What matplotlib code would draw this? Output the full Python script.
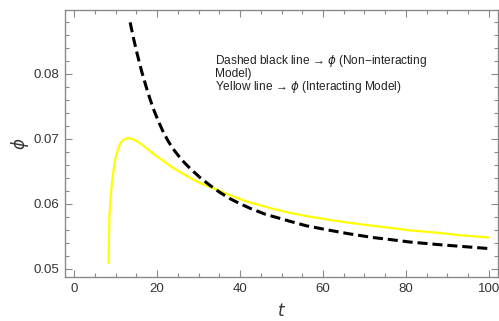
import matplotlib
matplotlib.use("Agg")
import matplotlib.pyplot as plt
from matplotlib.ticker import MultipleLocator

# Non-interacting model (dashed black)
t_non = [13.5, 14.3, 15.1, 16.3, 17.5, 18.3, 19.1, 20.3, 21.5, 22.7, 23.9, 26.0, 28.0, 30.4, 32.8, 35.0, 37.5, 40.0, 42.4, 46.0, 52.0, 56.0, 61.7, 66.0, 72.0, 76.0, 81.0, 88.0, 94.0, 100.0]
phi_non = [0.0879, 0.0855, 0.0833, 0.0803, 0.0777, 0.0761, 0.0746, 0.0727, 0.0710, 0.0696, 0.0684, 0.0667, 0.0654, 0.0640, 0.0628, 0.0618, 0.0608, 0.0600, 0.0593, 0.0584, 0.0573, 0.0566, 0.0559, 0.0554, 0.0548, 0.0545, 0.0541, 0.0537, 0.0534, 0.0531]

# Interacting model (yellow)
t_int = [8.3, 8.4, 8.5, 8.8, 9.1, 9.5, 9.9, 10.5, 11.1, 12.0, 13.1, 14.3, 15.9, 17.9, 19.9, 21.9, 23.9, 26.3, 28.7, 31.0, 33.6, 36.8, 40.0, 42.4, 48.0, 52.0, 56.0, 61.7, 66.0, 72.0, 76.0, 81.0, 88.0, 94.0, 100.0]
phi_int = [0.0507, 0.0550, 0.0580, 0.0610, 0.0632, 0.0652, 0.0668, 0.0682, 0.0693, 0.0699, 0.0701, 0.0699, 0.0693, 0.0683, 0.0673, 0.0664, 0.0655, 0.0646, 0.0637, 0.0630, 0.0624, 0.0615, 0.0607, 0.0602, 0.0592, 0.0586, 0.0581, 0.0575, 0.0571, 0.0566, 0.0563, 0.0559, 0.0555, 0.0551, 0.0548]

x_ticks = [0, 20, 40, 60, 80, 100]
y_ticks = [0.05, 0.06, 0.07, 0.08]

note_lines = ["Dashed black line \u2192 $\\phi$ (Non\u2212interacting",
              "Model)",
              "Yellow line \u2192 $\\phi$ (Interacting Model)"]

plt.rcParams['font.family'] = ['Liberation Sans', 'DejaVu Sans']

fig = plt.figure(figsize=(4.99, 3.21), dpi=100)
ax = fig.add_axes([0.1303, 0.137, 0.8677, 0.8318])

ax.plot(t_int, phi_int, color='#FFFF00', lw=1.6, solid_capstyle='butt')
ax.plot(t_non, phi_non, color='black', lw=2.2, dashes=(3.3, 1.6))

ax.set_xlim(-2.2, 102.2)
ax.set_ylim(0.04872, 0.0898)
ax.set_xticks(x_ticks)
ax.set_yticks(y_ticks)
ax.set_xticklabels([str(v) for v in x_ticks])
ax.set_yticklabels([f"{v:.2f}" for v in y_ticks])
ax.xaxis.set_minor_locator(MultipleLocator(5))
ax.yaxis.set_minor_locator(MultipleLocator(0.002))

frame_col = '#8a8a8a'
for s in ax.spines.values():
    s.set_color(frame_col)
    s.set_linewidth(1.0)
ax.tick_params(which='both', direction='in', top=True, right=True, color=frame_col,
               labelsize=9.5, labelcolor='#333333', width=0.8)
ax.tick_params(which='major', length=5, pad=4)
ax.tick_params(which='minor', length=2.8)

ax.set_xlabel('$t$', fontsize=12, color='#333333', labelpad=5)
ax.set_ylabel(r'$\phi$', fontsize=12, color='#333333', labelpad=2)

for yy, line in zip([0.798, 0.750, 0.701], note_lines):
    ax.text(0.3464, yy, line, transform=ax.transAxes, fontsize=8.6, color='#222222',
            va='baseline', ha='left')

fig.savefig('out.png', dpi=100)
